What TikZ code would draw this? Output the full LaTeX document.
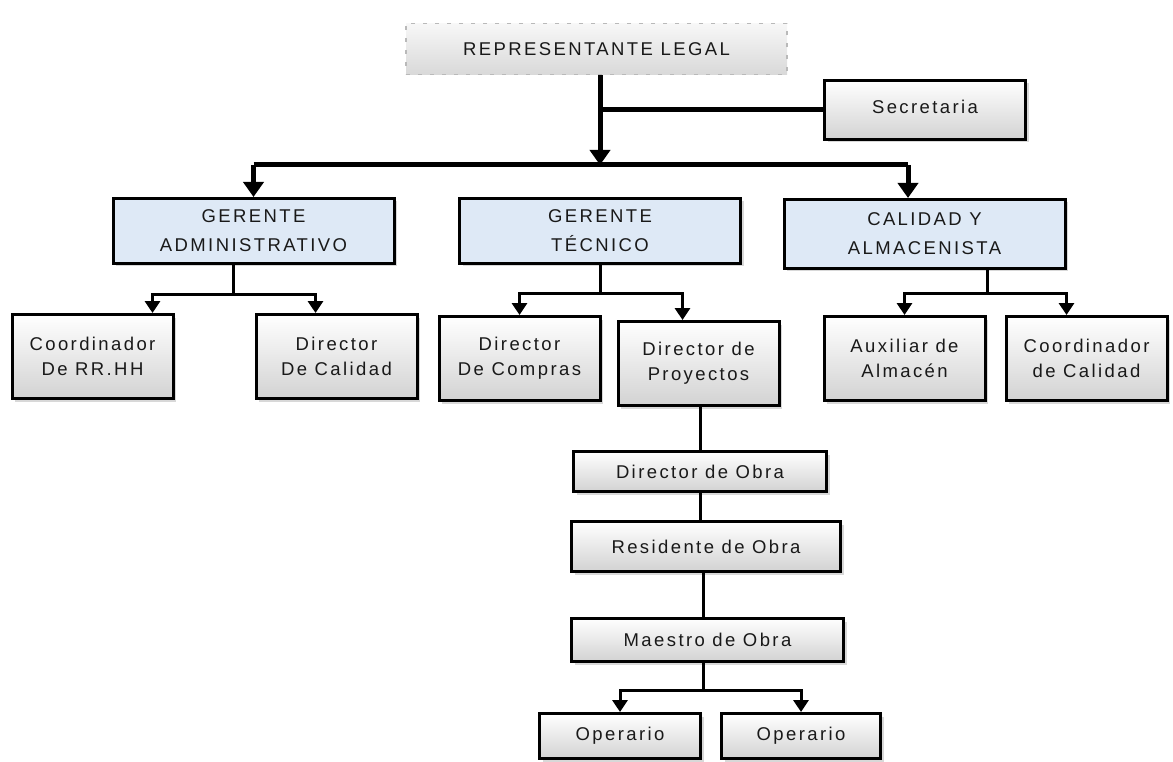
\documentclass[tikz,border=0pt]{standalone}
\usepackage{fontspec}
\setmainfont{Liberation Sans}[LetterSpace=13]
\usetikzlibrary{positioning,arrows.meta,shadows}

\begin{document}
\begin{tikzpicture}[x=1pt, y=-1pt,
    font=\fontsize{18.5}{25}\selectfont,
    caja/.style={draw=black, line width=3pt, align=center, text=black!90,
        drop shadow={shadow xshift=3pt, shadow yshift=-3pt, fill=gray!60}},
    gris/.style={caja, top color=white, bottom color=gray!35},
    jefe/.style={caja, fill={rgb,255:red,222;green,233;blue,246},
        font=\fontsize{18.5}{29}\selectfont, minimum height=65pt, minimum width=281pt},
    cargo/.style={gris, minimum width=161pt, minimum height=84pt},
    bigline/.style={line width=5pt},
    line/.style={line width=3pt},
    bigtip/.style={-{Triangle[width=20pt,length=15pt]}},
    tip/.style={-{Triangle[width=15pt,length=12pt]}}]
    \useasboundingbox (0,0) rectangle (1173,762);

    % cabeza
    \node[draw=gray!55, dash pattern=on 4pt off 8pt, line width=1.2pt,
        top color=gray!6, bottom color=gray!30, text=black!90,
        minimum width=381pt, minimum height=51pt] (rep) at (596.5,49) {REPRESENTANTE LEGAL};
    \node[gris, minimum width=201pt, minimum height=59pt] (sec) at (925,110) {\raisebox{7pt}{Secretaria}};

    % gerencias
    \node[jefe] (ga) at (253.5,231) {GERENTE\\ADMINISTRATIVO};
    \node[jefe] (gt) at (600,231) {GERENTE\\TÉCNICO};
    \node[jefe, minimum height=69pt] (ca) at (924.5,234) {CALIDAD Y\\ALMACENISTA};

    % cargos
    \node[cargo] (crh) at (92.5,356.5) {Coordinador\\De RR.HH};
    \node[cargo] (dca) at (336.5,356.5) {Director\\De Calidad};
    \node[cargo] (dco) at (519.5,358.5) {Director\\De Compras};
    \node[cargo] (dpr) at (698.5,363.5) {Director de\\Proyectos};
    \node[cargo] (aux) at (904.5,358.5) {Auxiliar de\\Almacén};
    \node[cargo] (cdc) at (1086.5,358.5) {Coordinador\\de Calidad};

    % obra
    \node[gris, minimum width=253pt, minimum height=40pt] (dob) at (700,471.5) {Director de Obra};
    \node[gris, minimum width=269pt, minimum height=50pt] (res) at (706,546.5) {Residente de Obra};
    \node[gris, minimum width=272pt, minimum height=43pt] (mae) at (707.5,640) {Maestro de Obra};
    \node[gris, minimum width=161pt, minimum height=45pt] (op1) at (620,736) {Operario};
    \node[gris, minimum width=159pt, minimum height=45pt] (op2) at (801,736) {Operario};

    % conexiones
    \coordinate (hub) at (600,165);
    \coordinate (busR) at (908,165);
    \draw[bigline, bigtip] (rep.south -| hub) -- (hub);
    \draw[bigline] (hub |- sec.west) -- (sec.west);
    \draw[bigline] (hub -| ga.north) -- (busR);
    \draw[bigline, bigtip] (hub -| ga.north) -- (ga.north);
    \draw[bigline, bigtip] (busR) -- (busR |- ca.north);

    \coordinate (gaj) at (233,294);
    \draw[line] (gaj |- ga.south) -- (gaj);
    \draw[line, tip] (gaj) -| ([xshift=60pt]crh.north);
    \draw[line, tip] (gaj) -| ([xshift=-21pt]dca.north);

    \coordinate (gtj) at (600,293);
    \draw[line] (gt.south) -- (gtj);
    \draw[line, tip] (gtj) -| (dco.north);
    \draw[line, tip] (gtj) -| ([xshift=-16pt]dpr.north);

    \coordinate (caj) at (987,293);
    \draw[line] (caj |- ca.south) -- (caj);
    \draw[line, tip] (caj) -| (aux.north);
    \draw[line, tip] (caj) -| ([xshift=-20pt]cdc.north);

    \draw[line] (dob.north) -- (dob.north |- dpr.south);
    \draw[line] (dob.south) -- (dob.south |- res.north);
    \draw[line] ([xshift=-3pt]res.south) -- ([xshift=-3pt]res.south |- mae.north);

    \coordinate (maej) at (703,690);
    \draw[line] (maej |- mae.south) -- (maej);
    \draw[line, tip] (maej) -| (op1.north);
    \draw[line, tip] (maej) -| (op2.north);
\end{tikzpicture}
\end{document}
